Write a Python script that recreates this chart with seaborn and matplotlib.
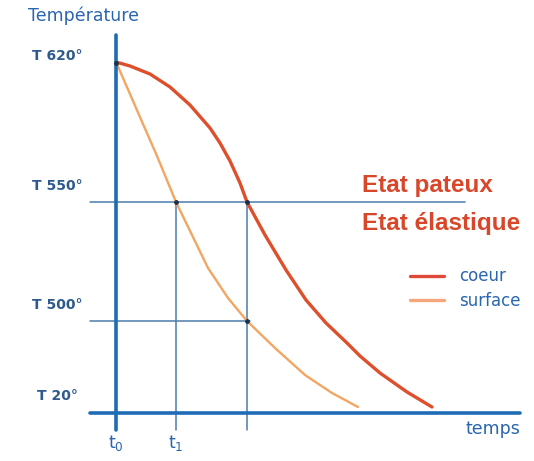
import numpy as np
import pandas as pd
import matplotlib
matplotlib.use("Agg")
import matplotlib.pyplot as plt
from matplotlib.lines import Line2D
import seaborn as sns

# schematic coordinates (time units, level units)
t_coeur = [0, 14, 34, 54, 74, 94, 104, 114, 124, 131, 149, 170, 190, 210, 231, 244, 264, 291, 316]
y_coeur = [351, 347, 339, 326, 308, 285, 270, 252, 230, 211, 178, 143, 113, 90, 70, 57, 40, 21, 6]
t_surface = [0, 14, 27, 41, 60, 76, 92, 112, 131, 159, 189, 216, 242]
y_surface = [351, 319, 289, 257, 211, 178, 145, 115, 92, 65, 38, 20, 6]

temp_labels = ["T 620°", "T 550°", "T 500°", "T 20°"]
temp_levels = [350, 211, 92, 0]
time_labels = ["t", "t", ""]
time_subs = ["0", "1", ""]
time_ticks = [0, 60, 131]

series_names = ["coeur", "surface"]
series_colors = ["#de4f2c", "#f3a562"]
legend_colors = ["#e0493a", "#f4a77c"]

df = pd.concat([
    pd.DataFrame({"t": t_coeur, "y": y_coeur, "courbe": "coeur"}),
    pd.DataFrame({"t": t_surface, "y": y_surface, "courbe": "surface"}),
])

sns.set_theme(style="white")
fig = plt.figure(figsize=(5.34, 4.61), dpi=100)
ax = fig.add_axes([0, 0, 1, 1])
ax.set_xlim(-116, 418)
ax.set_ylim(-48, 413)
ax.axis("off")

axis_blue = "#1f6cb6"
guide_blue = "#4b7cab"
label_blue = "#2a66ad"
dark_blue = "#2f5a8e"

# guide lines
ax.plot([-26, 349], [temp_levels[1]] * 2, color=guide_blue, lw=1.1, zorder=1)
ax.plot([-26, 134], [temp_levels[2]] * 2, color=guide_blue, lw=1.1, zorder=1)
for tt in time_ticks[1:]:
    ax.plot([tt, tt], [-17, temp_levels[1]], color=guide_blue, lw=1.1, zorder=1)

# curves
sns.lineplot(data=df, x="t", y="y", hue="courbe", palette=series_colors,
             sort=False, estimator=None, legend=False, ax=ax, zorder=3)
ax.lines[-2].set_linewidth(2.4)
ax.lines[-1].set_linewidth(1.7)

# axes
ax.plot([0, 0], [-17, 378], color=axis_blue, lw=2.6, zorder=4)
ax.plot([-26, 404], [0, 0], color=axis_blue, lw=2.6, zorder=4)

# intersection dots
ax.scatter([0, 60, 131, 131], [350, 211, 211, 92], s=6, color="#1e2f48", zorder=5)

# temperature labels
offsets = [7, 16, 16, 17]
for lab, lev, off in zip(temp_labels, temp_levels, offsets):
    ax.text(-59, lev + off, lab, ha="center", va="center", fontsize=10,
            fontweight="bold", color=dark_blue)

# time labels
for lab, sub, tt in zip(time_labels, time_subs, time_ticks):
    if lab:
        ax.text(tt, -30, r"$\mathregular{%s_{%s}}$" % (lab, sub), ha="center",
                va="center", fontsize=12.5, color=label_blue)

ax.text(-88, 397, "Température", ha="left", va="center", fontsize=12.5,
        color=label_blue)
ax.text(404, -16, "temps", ha="right", va="center", fontsize=12.5,
        color=label_blue)

# state annotations
state_font = dict(family=["Liberation Sans", "DejaVu Sans"], fontsize=17.5,
                  fontweight="bold", color="#d8472a")
ax.text(246, 221, "Etat pateux", ha="left", va="baseline", **state_font)
ax.text(246, 183, "Etat élastique", ha="left", va="baseline", **state_font)

# legend
handles = [Line2D([0], [0], color=c, lw=2.4) for c in legend_colors]
leg = ax.legend(handles, series_names, loc="upper left",
                bbox_to_anchor=(402 / 534, 1 - 259 / 461), frameon=False,
                fontsize=12, handlelength=2.0, handletextpad=0.9,
                labelspacing=0.4, borderpad=0)
for txt in leg.get_texts():
    txt.set_color(label_blue)

fig.savefig("out.png", dpi=100, facecolor="white")
